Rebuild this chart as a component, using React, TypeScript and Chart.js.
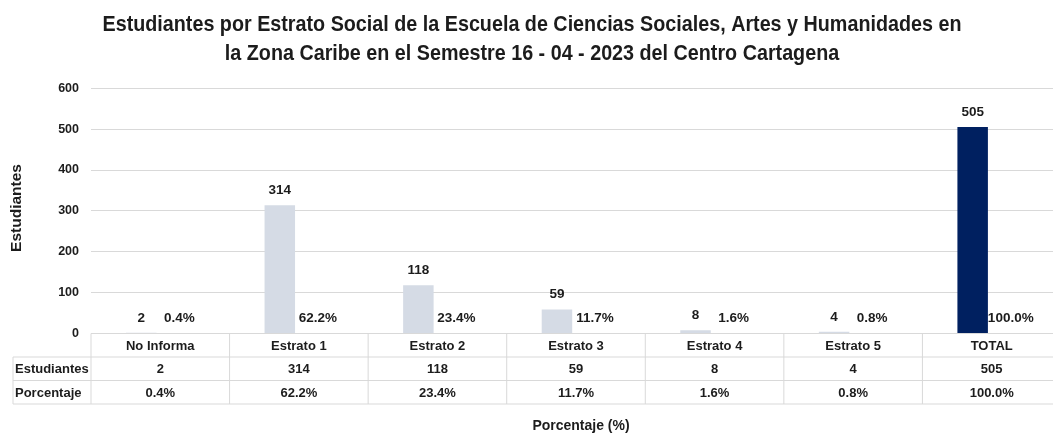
import React, { useEffect, useRef } from 'react';
import { Chart, registerables } from 'chart.js';

Chart.register(...registerables);

// ---------- data ----------
const titleLines = [
  'Estudiantes por Estrato Social de la Escuela de Ciencias Sociales, Artes y Humanidades en',
  'la Zona Caribe en el Semestre 16 - 04 - 2023 del Centro Cartagena',
];
const categories = ['No Informa', 'Estrato 1', 'Estrato 2', 'Estrato 3', 'Estrato 4', 'Estrato 5', 'TOTAL'];
const estudiantes = [2, 314, 118, 59, 8, 4, 505];
const porcentaje = [0.4, 62.2, 23.4, 11.7, 1.6, 0.8, 100.0];
const seriesNames = ['Estudiantes', 'Porcentaje'];
const yMin = 0;
const yMax = 600;
const yStep = 100;
const yAxisTitle = 'Estudiantes';
const xAxisTitle = 'Porcentaje (%)';

// ---------- styles ----------
const FONT = '"Liberation Sans", Arial, sans-serif';
const TEXT = '#1c1c1c';
const GRID = '#d9d9d9';
const BAR_LIGHT = '#d5dbe5';
const BAR_TOTAL = '#002060';
const CANVAS_W = 1064;
const CANVAS_H = 436;

const pct = (v: number) => v.toFixed(1) + '%';

const overlay = {
  id: 'overlay',
  afterDraw(chart: any) {
    const { ctx, chartArea } = chart;
    ctx.save();
    ctx.fillStyle = TEXT;
    ctx.textAlign = 'center';

    // title (condensed, like the original)
    ctx.font = `bold 21.5px ${FONT}`;
    ctx.textBaseline = 'alphabetic';
    const w0 = ctx.measureText(titleLines[0]).width;
    const sx = 859 / w0;
    titleLines.forEach((line, i) => {
      ctx.save();
      ctx.translate(532, 31 + i * 29);
      ctx.scale(sx, 1);
      ctx.fillText(line, 0, 0);
      ctx.restore();
    });

    // data labels
    ctx.font = `bold 13.5px ${FONT}`;
    const m0 = chart.getDatasetMeta(0);
    const m1 = chart.getDatasetMeta(1);
    m0.data.forEach((bar: any, i: number) => {
      ctx.fillText(String(estudiantes[i]), bar.x, bar.y - 11);
    });
    m1.data.forEach((bar: any, i: number) => {
      ctx.fillText(pct(porcentaje[i]), bar.x, bar.y - 11);
    });

    // data table
    const n = categories.length;
    const cw = (chartArea.right - chartArea.left) / n;
    const rowH = 23.5;
    const top = chartArea.bottom;
    const tableLeft = 13;
    ctx.strokeStyle = GRID;
    ctx.lineWidth = 1;
    ctx.beginPath();
    ctx.moveTo(chartArea.left, top);
    ctx.lineTo(chartArea.right, top);
    for (let r = 1; r <= 3; r++) {
      ctx.moveTo(tableLeft, top + r * rowH);
      ctx.lineTo(chartArea.right, top + r * rowH);
    }
    ctx.moveTo(tableLeft, top + rowH);
    ctx.lineTo(tableLeft, top + 3 * rowH);
    for (let i = 0; i <= n; i++) {
      const x = chartArea.left + i * cw;
      ctx.moveTo(x, top);
      ctx.lineTo(x, top + 3 * rowH);
    }
    ctx.stroke();

    ctx.font = `bold 13px ${FONT}`;
    ctx.textBaseline = 'middle';
    ctx.textAlign = 'center';
    categories.forEach((c, i) => {
      const cx = chartArea.left + (i + 0.5) * cw;
      ctx.fillText(c, cx, top + rowH * 0.5 + 1);
      ctx.fillText(String(estudiantes[i]), cx, top + rowH * 1.5 + 1);
      ctx.fillText(pct(porcentaje[i]), cx, top + rowH * 2.5 + 1);
    });
    ctx.textAlign = 'left';
    ctx.fillText(seriesNames[0], 15, top + rowH * 1.5 + 1);
    ctx.fillText(seriesNames[1], 15, top + rowH * 2.5 + 1);

    // axis titles
    ctx.textAlign = 'center';
    ctx.font = `bold 14px ${FONT}`;
    ctx.textBaseline = 'alphabetic';
    ctx.fillText(xAxisTitle, 581, 430);

    ctx.save();
    ctx.translate(17, 208);
    ctx.rotate(-Math.PI / 2);
    ctx.font = `bold 15.5px ${FONT}`;
    ctx.textBaseline = 'middle';
    ctx.fillText(yAxisTitle, 0, 0);
    ctx.restore();

    ctx.restore();
  },
};

export default function App() {
  const ref = useRef<HTMLCanvasElement | null>(null);

  useEffect(() => {
    document.body.style.margin = '0';
    const canvas = ref.current;
    if (!canvas) return;
    const chart = new Chart(canvas, {
      type: 'bar',
      data: {
        labels: categories,
        datasets: [
          {
            label: seriesNames[0],
            data: estudiantes,
            backgroundColor: estudiantes.map((_, i) => (i === estudiantes.length - 1 ? BAR_TOTAL : BAR_LIGHT)),
            categoryPercentage: 0.55,
            barPercentage: 0.8,
          },
          {
            label: seriesNames[1],
            data: porcentaje.map((v) => v / 100),
            backgroundColor: porcentaje.map((_, i) => (i === porcentaje.length - 1 ? BAR_TOTAL : BAR_LIGHT)),
            categoryPercentage: 0.55,
            barPercentage: 0.8,
          },
        ],
      },
      options: {
        animation: false,
        responsive: false,
        devicePixelRatio: 1,
        layout: { padding: { left: 0, right: CANVAS_W - 1061, top: 88.3, bottom: CANVAS_H - 333.5 } },
        plugins: {
          legend: { display: false },
          title: { display: false },
          tooltip: { enabled: false },
        },
        scales: {
          x: { display: false },
          y: {
            min: yMin,
            max: yMax,
            ticks: {
              stepSize: yStep,
              padding: 12,
              color: TEXT,
              font: { family: FONT, size: 12.5, weight: 'bold' },
            },
            grid: { color: GRID, drawTicks: false, lineWidth: 1 },
            border: { display: false },
            afterFit: (scale: any) => {
              scale.width = 91;
            },
          },
        },
      },
      plugins: [overlay],
    });
    return () => chart.destroy();
  }, []);

  return (
    <div style={{ width: 1053, height: CANVAS_H, overflow: 'hidden', background: '#fff' }}>
      <canvas ref={ref} width={CANVAS_W} height={CANVAS_H} style={{ display: 'block' }} />
    </div>
  );
}
